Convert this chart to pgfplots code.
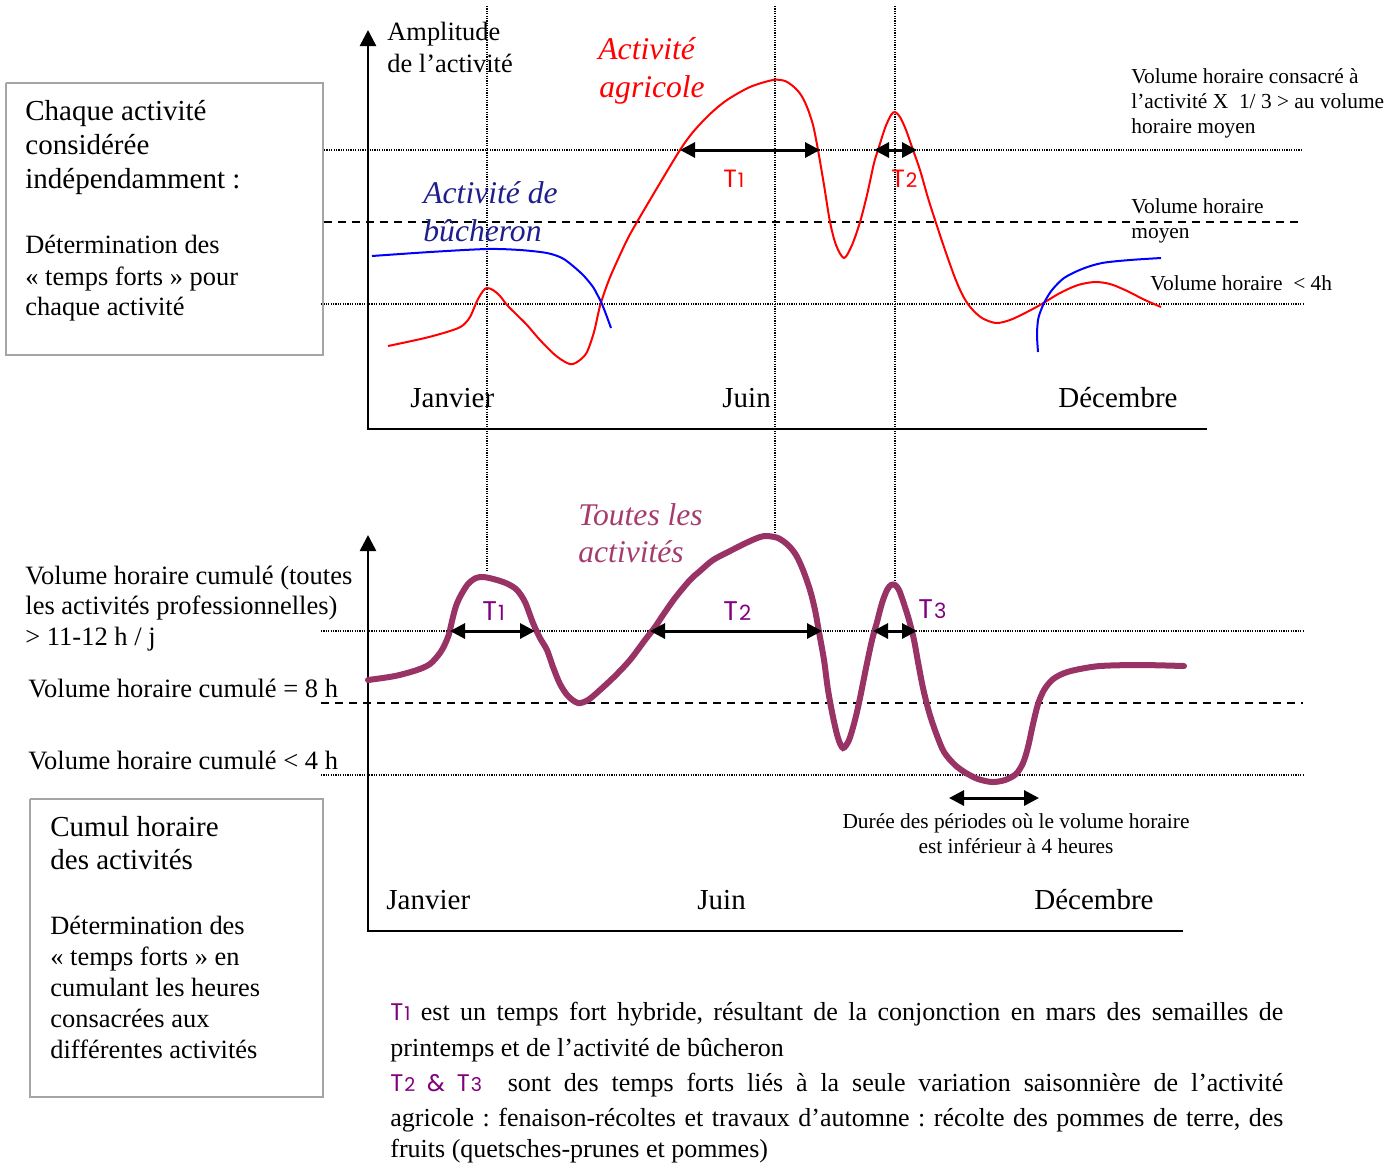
\documentclass[border=0pt]{standalone}
\usepackage{pgfplots}
\pgfplotsset{compat=1.18}
\usepackage{fontspec}
\setmainfont{Liberation Serif}
\newfontfamily\hand{Poppins}
\usetikzlibrary{arrows.meta}
\frenchspacing

\definecolor{navytxt}{RGB}{30,30,140}
\definecolor{plum}{RGB}{153,51,102}
\definecolor{plumtxt}{RGB}{165,60,110}
\definecolor{tpurple}{RGB}{128,0,128}
\definecolor{boxgray}{RGB}{165,165,165}

\newcommand\sz[1]{\fontsize{#1}{#1}\selectfont}
% handwritten-like T marks: T + smaller digit
\newcommand\Tm[2]{{\hand T\kern0.5pt{\sz{#1}#2}}}

\tikzset{
  dotline/.style={black, line width=0.7pt, dash pattern=on 0.6pt off 0.6pt},
  dashline/.style={black, line width=1pt, dash pattern=on 4pt off 3pt},
  twoarrow/.style={black, line width=1.5pt,
    {Triangle[length=7.5pt,width=7.5pt]}-{Triangle[length=7.5pt,width=7.5pt]}},
  axisline/.style={black, line width=1.3pt},
  txt/.style={anchor=base west, inner sep=0pt},
}

\begin{document}
\begin{tikzpicture}
\begin{axis}[
  scale only axis, width=700pt, height=582pt,
  xmin=0, xmax=1400, ymin=0, ymax=1164, y dir=reverse,
  hide axis, clip=false,
]
\addplot[draw=none] coordinates {(0,0) (1400,1164)};

% reference lines
\addplot[dotline] coordinates {(487,6) (487,572)};
\addplot[dotline] coordinates {(775,6) (775,536)};
\addplot[dotline] coordinates {(895,6) (895,583)};
\addplot[dotline] coordinates {(324,150) (1303,150)};
\addplot[dashline] coordinates {(324,222) (1303,222)};
\addplot[dotline] coordinates {(321,304) (1303,304)};
\addplot[dotline] coordinates {(321,631) (1303,631)};
\addplot[dashline] coordinates {(321,703) (1303,703)};
\addplot[dotline] coordinates {(321,775) (1303,775)};

% axes
\addplot[axisline, -{Triangle[length=8pt,width=8pt]}] coordinates {(368,429) (368,30)};
\addplot[axisline] coordinates {(367,429) (1207,429)};
\addplot[axisline, -{Triangle[length=8pt,width=8pt]}] coordinates {(368,931) (368,535)};
\addplot[axisline] coordinates {(367,931) (1183,931)};

% boxes
\addplot[boxgray, line width=0.8pt] coordinates {(6,83) (323,83) (323,355) (6,355) (6,83)};
\addplot[boxgray, line width=1.2pt] coordinates {(30,799) (323,799) (323,1097) (30,1097) (30,799)};

% agricultural activity
\addplot[red, line width=1pt, smooth, tension=0.5] coordinates {
(388,346) (425,338) (450,331) (462,326) (470,317) (477,301) (483,291) (487,288)
(493,290) (500,296) (507,305) (517,315) (527,325) (540,340) (555,355) (567,363)
(573,364) (580,360) (587,352) (594,332) (600,306) (607,285) (614,268) (627,240)
(637,222) (660,183) (680,150) (693,132) (710,114) (727,100) (750,87) (773,80)
(785,81) (794,87) (801,95) (807,107) (813,125) (818,150) (824,185) (830,222)
(836,245) (844,258) (852,245) (860,222) (867,195) (874,163) (878,150) (885,128)
(891,115) (895,112) (900,117) (906,130) (913,150) (920,170) (928,198) (936,223)
(945,250) (955,278) (963,296) (971,308) (982,318) (996,323) (1010,320) (1025,313)
(1040,305) (1060,293) (1078,285) (1095,282) (1110,284) (1125,290) (1145,300) (1161,307)};

% woodcutter activity
\addplot[blue, line width=1pt, smooth, tension=0.5] coordinates {
(372,256) (430,252) (487,249) (520,250) (547,253) (562,258) (573,266) (584,276)
(593,287) (598,296) (602,304) (607,317) (611,328)};
\addplot[blue, line width=1pt, smooth, tension=0.5] coordinates {
(1038,352) (1037,335) (1038,320) (1041,310) (1045,301) (1052,290) (1064,278)
(1082,269) (1102,263) (1130,260) (1161,258)};

% all activities
\addplot[plum, line width=3pt, line cap=round, smooth, tension=0.5] coordinates {
(368,680) (395,676) (417,670) (430,664) (440,653) (445,644) (449,634) (452,621)
(456,606) (461,595) (468,584) (476,578) (484,577) (497,580) (508,584) (517,590)
(525,602) (533,623) (540,638) (547,650) (553,667) (560,684) (568,696) (578,703)
(588,700) (600,690) (615,676) (630,660) (645,640) (655,627) (663,615) (675,598)
(690,580) (700,571) (713,560) (730,551) (748,542) (760,537) (767,536) (778,538)
(788,545) (796,555) (803,570) (810,590) (815,610) (819,632) (824,660) (828,690)
(833,717) (838,738) (843,748) (849,740) (855,720) (860,698) (866,668) (872,640)
(877,622) (882,603) (887,590) (891,585) (895,585) (899,590) (904,604) (909,620)
(914,640) (918,662) (923,688) (929,712) (936,733) (944,752) (955,765) (966,773)
(978,779) (992,782) (1005,780) (1016,774) (1023,763) (1028,747) (1033,724) (1038,704)
(1044,690) (1052,680) (1062,674) (1075,670) (1100,666) (1140,665) (1184,666)};

% period arrows
\addplot[twoarrow] coordinates {(680,150) (820,150)};
\addplot[twoarrow] coordinates {(874,150) (917,150)};
\addplot[twoarrow] coordinates {(450,631) (535,631)};
\addplot[twoarrow] coordinates {(650,631) (822,631)};
\addplot[twoarrow] coordinates {(873,631) (917,631)};
\addplot[twoarrow] coordinates {(949,798) (1039,798)};

% ---- texts, upper panel
\node[txt, font=\sz{13.2}] at (axis cs:387,40) {Amplitude};
\node[txt, font=\sz{13.2}] at (axis cs:387,72) {de l'activité};
\node[txt, font=\sz{15.8}\itshape, text=red] at (axis cs:598,59) {Activité};
\node[txt, font=\sz{15.8}\itshape, text=red] at (axis cs:599,97) {agricole};
\node[txt, font=\sz{15.8}\itshape, text=navytxt] at (axis cs:423,203) {Activité de};
\node[txt, font=\sz{15.8}\itshape, text=navytxt] at (axis cs:423,241) {bûcheron};
\node[txt, font=\hand\sz{12.5}, text=red] at (axis cs:723,187) {\Tm{10}{1}};
\node[txt, font=\hand\sz{12.5}, text=red] at (axis cs:891,187) {\Tm{10}{2}};
\node[txt, font=\sz{10.7}] at (axis cs:1131,83) {Volume horaire consacré à};
\node[txt, font=\sz{10.7}] at (axis cs:1131,108) {l'activité X\ \ 1/ 3 > au volume};
\node[txt, font=\sz{10.7}] at (axis cs:1131,133) {horaire moyen};
\node[txt, font=\sz{10.7}] at (axis cs:1131,213) {Volume horaire};
\node[txt, font=\sz{10.7}] at (axis cs:1131,238) {moyen};
\node[txt, font=\sz{10.7}] at (axis cs:1150,290) {Volume horaire\ \ < 4h};
\node[txt, font=\sz{14.5}] at (axis cs:410,407) {Janvier};
\node[txt, font=\sz{14.5}] at (axis cs:722,407) {Juin};
\node[txt, font=\sz{14.5}] at (axis cs:1058,407) {Décembre};

\node[txt, font=\sz{14.5}] at (axis cs:25,120) {Chaque activité};
\node[txt, font=\sz{14.5}] at (axis cs:25,154) {considérée};
\node[txt, font=\sz{14.5}] at (axis cs:25,188) {indépendamment :};
\node[txt, font=\sz{13.2}] at (axis cs:25,253) {Détermination des};
\node[txt, font=\sz{13.2}] at (axis cs:25,285) {« temps forts » pour};
\node[txt, font=\sz{13.2}] at (axis cs:25,315) {chaque activité};

% ---- texts, lower panel
\node[txt, font=\sz{15.8}\itshape, text=plumtxt] at (axis cs:578,525) {Toutes les};
\node[txt, font=\sz{15.8}\itshape, text=plumtxt] at (axis cs:578,562) {activités};
\node[txt, font=\hand\sz{13.5}, text=tpurple] at (axis cs:482,620) {\Tm{10.5}{1}};
\node[txt, font=\hand\sz{13.5}, text=tpurple] at (axis cs:723,620) {\Tm{10.5}{2}};
\node[txt, font=\hand\sz{13.5}, text=tpurple] at (axis cs:918,618) {\Tm{10.5}{3}};
\node[txt, font=\sz{13.25}] at (axis cs:25,584) {Volume horaire cumulé (toutes};
\node[txt, font=\sz{13.25}] at (axis cs:25,614) {les activités professionnelles)};
\node[txt, font=\sz{13.25}] at (axis cs:25,645) {> 11-12 h / j};
\node[txt, font=\sz{13.25}] at (axis cs:28,697) {Volume horaire cumulé = 8 h};
\node[txt, font=\sz{13.25}] at (axis cs:28,769) {Volume horaire cumulé < 4 h};
\node[anchor=base, inner sep=0pt, font=\sz{10.7}] at (axis cs:1016,828) {Durée des périodes où le volume horaire};
\node[anchor=base, inner sep=0pt, font=\sz{10.7}] at (axis cs:1016,853) {est inférieur à 4 heures};
\node[txt, font=\sz{14.5}] at (axis cs:386,909) {Janvier};
\node[txt, font=\sz{14.5}] at (axis cs:697,909) {Juin};
\node[txt, font=\sz{14.5}] at (axis cs:1034,909) {Décembre};

\node[txt, font=\sz{14.5}] at (axis cs:50,836) {Cumul horaire};
\node[txt, font=\sz{14.5}] at (axis cs:50,869) {des activités};
\node[txt, font=\sz{13.2}] at (axis cs:50,934) {Détermination des};
\node[txt, font=\sz{13.2}] at (axis cs:50,965) {« temps forts » en};
\node[txt, font=\sz{13.2}] at (axis cs:50,996) {cumulant les heures};
\node[txt, font=\sz{13.2}] at (axis cs:50,1027) {consacrées aux};
\node[txt, font=\sz{13.2}] at (axis cs:50,1058) {différentes activités};

% ---- note under the chart
\node[txt, font=\sz{13}] at (axis cs:390,1020) {\makebox[446.5pt][s]{{\color{tpurple}\sz{12}\Tm{9.5}{1}} est un temps fort hybride, résultant de la conjonction en mars des semailles de}};
\node[txt, font=\sz{13}] at (axis cs:390,1056) {printemps et de l'activité de bûcheron};
\node[txt, font=\sz{13}] at (axis cs:390,1091) {\makebox[446.5pt][s]{{\color{tpurple}\sz{12}\Tm{9.5}{2} {\hand\&} \Tm{9.5}{3}}\ \ sont des temps forts liés à la seule variation saisonnière de l'activité}};
\node[txt, font=\sz{13}] at (axis cs:390,1126) {\makebox[446.5pt][s]{agricole : fenaison-récoltes et travaux d'automne : récolte des pommes de terre, des}};
\node[txt, font=\sz{13}] at (axis cs:390,1157) {fruits (quetsches-prunes et pommes)};
\end{axis}
\end{tikzpicture}
\end{document}
